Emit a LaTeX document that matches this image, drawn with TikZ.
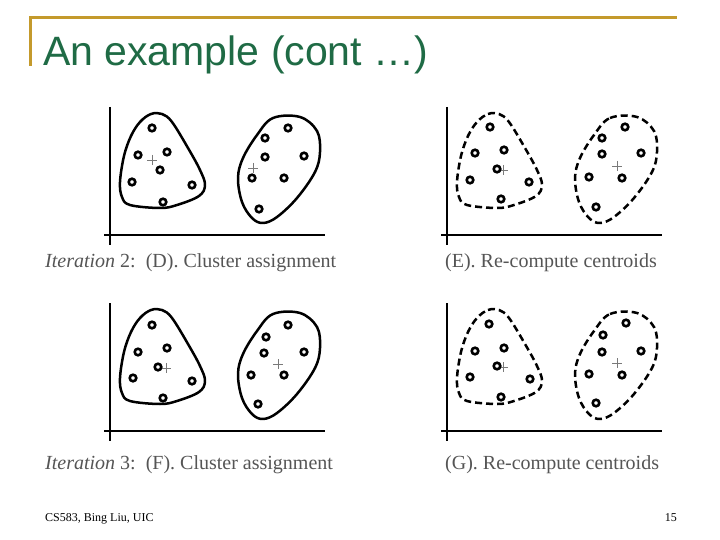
\documentclass[tikz,border=0pt]{standalone}
\usepackage{fontspec}
\setmainfont{Liberation Serif}
\newfontfamily\titlefont{Liberation Sans}
\definecolor{titlegreen}{HTML}{1F6B45}
\definecolor{rulegold}{HTML}{C49A2C}
\definecolor{capgray}{HTML}{555555}
\definecolor{centgray}{HTML}{7A7A7A}

\begin{document}
\begin{tikzpicture}[x=1pt, y=-1pt,
  obs/.style={draw=black, line width=2.6pt, fill=white},
  axisline/.style={line width=2.4pt},
  hull/.style={line width=2.5pt, line join=round},
  hulldash/.style={hull, dash pattern=on 7pt off 4pt},
  cent/.style={draw=centgray, line width=0.9pt},
  panelcap/.style={font=\fontsize{20}{24}\selectfont, text=capgray, anchor=base west, inner sep=0pt},
]
  \useasboundingbox[fill=white] (0,0) rectangle (720,540);

  \draw[rulegold, line width=3pt] (30,66) |- (677,18);
  \node[anchor=base west, inner sep=0pt, text=titlegreen, font=\titlefont\fontsize{41}{46}\selectfont] (title) at (43,66) {An example (cont \dots)};

  \foreach \dx/\dy/\sty in {0/0/hull, 337/0/hulldash, 0/196/hull, 337/196/hulldash} {
    \begin{scope}[shift={(\dx,\dy)}]
      \draw[axisline] (110,107) -- (110,245);
      \draw[axisline] (104,235) -- (325,235);
      \draw[\sty] plot[smooth cycle, tension=0.6] coordinates {(140,122) (151,114) (162,114) (172,122) (188,148) (200,170) (205,185) (199,196) (177,205) (160,208) (130,205) (122,197) (120,182) (124,156) (131,136)};
      \draw[\sty] plot[smooth cycle, tension=0.6] coordinates {(257,135) (273,118) (300,117) (317,131) (320,152) (315,172) (297,198) (277,217) (263,223) (252,218) (242,202) (238,178) (243,158)};
    \end{scope}
  }

  \foreach \x/\y in {152/160, 253/168, 503/170, 617/166, 166/368, 278/364, 503/367, 617/363}
    \draw[cent] (\x-5,\y) -- (\x+5,\y) (\x,\y-5) -- (\x,\y+5);

  \foreach \x/\y in {152/128, 138/155, 167/152, 160/170, 132/182, 192/185, 163/202,
                     288/128, 265/138, 265/157, 304/156, 252/178, 284/178, 259/209,
                     490/127, 475/153, 504/150, 497/169, 470/180, 529/182, 501/199,
                     625/127, 602/138, 602/154, 641/153, 589/177, 622/178, 596/207,
                     152/325, 138/352, 167/348, 158/367, 133/378, 192/381, 163/398,
                     288/325, 266/337, 264/353, 304/352, 251/375, 284/375, 258/404,
                     489/324, 475/351, 504/348, 497/366, 470/377, 530/379, 501/397,
                     626/323, 603/335, 602/352, 641/351, 589/374, 622/375, 596/403}
    \draw[obs] (\x,\y) circle[radius=3.3pt];

  \node[panelcap] (capD) at (45,267) {\textit{Iteration} 2:\ \ (D). Cluster assignment};
  \node[panelcap] (capE) at (445,267) {(E). Re-compute centroids};
  \node[panelcap] (capF) at (45,469) {\textit{Iteration} 3:\ \ (F). Cluster assignment};
  \node[panelcap] (capG) at (445,469) {(G). Re-compute centroids};

  \node[anchor=base west, inner sep=0pt, font=\fontsize{12}{14}\selectfont] (foot) at (45,521) {CS583, Bing Liu, UIC};
  \node[anchor=base east, inner sep=0pt, font=\fontsize{12}{14}\selectfont] (page) at (677,521) {15};
\end{tikzpicture}
\end{document}
